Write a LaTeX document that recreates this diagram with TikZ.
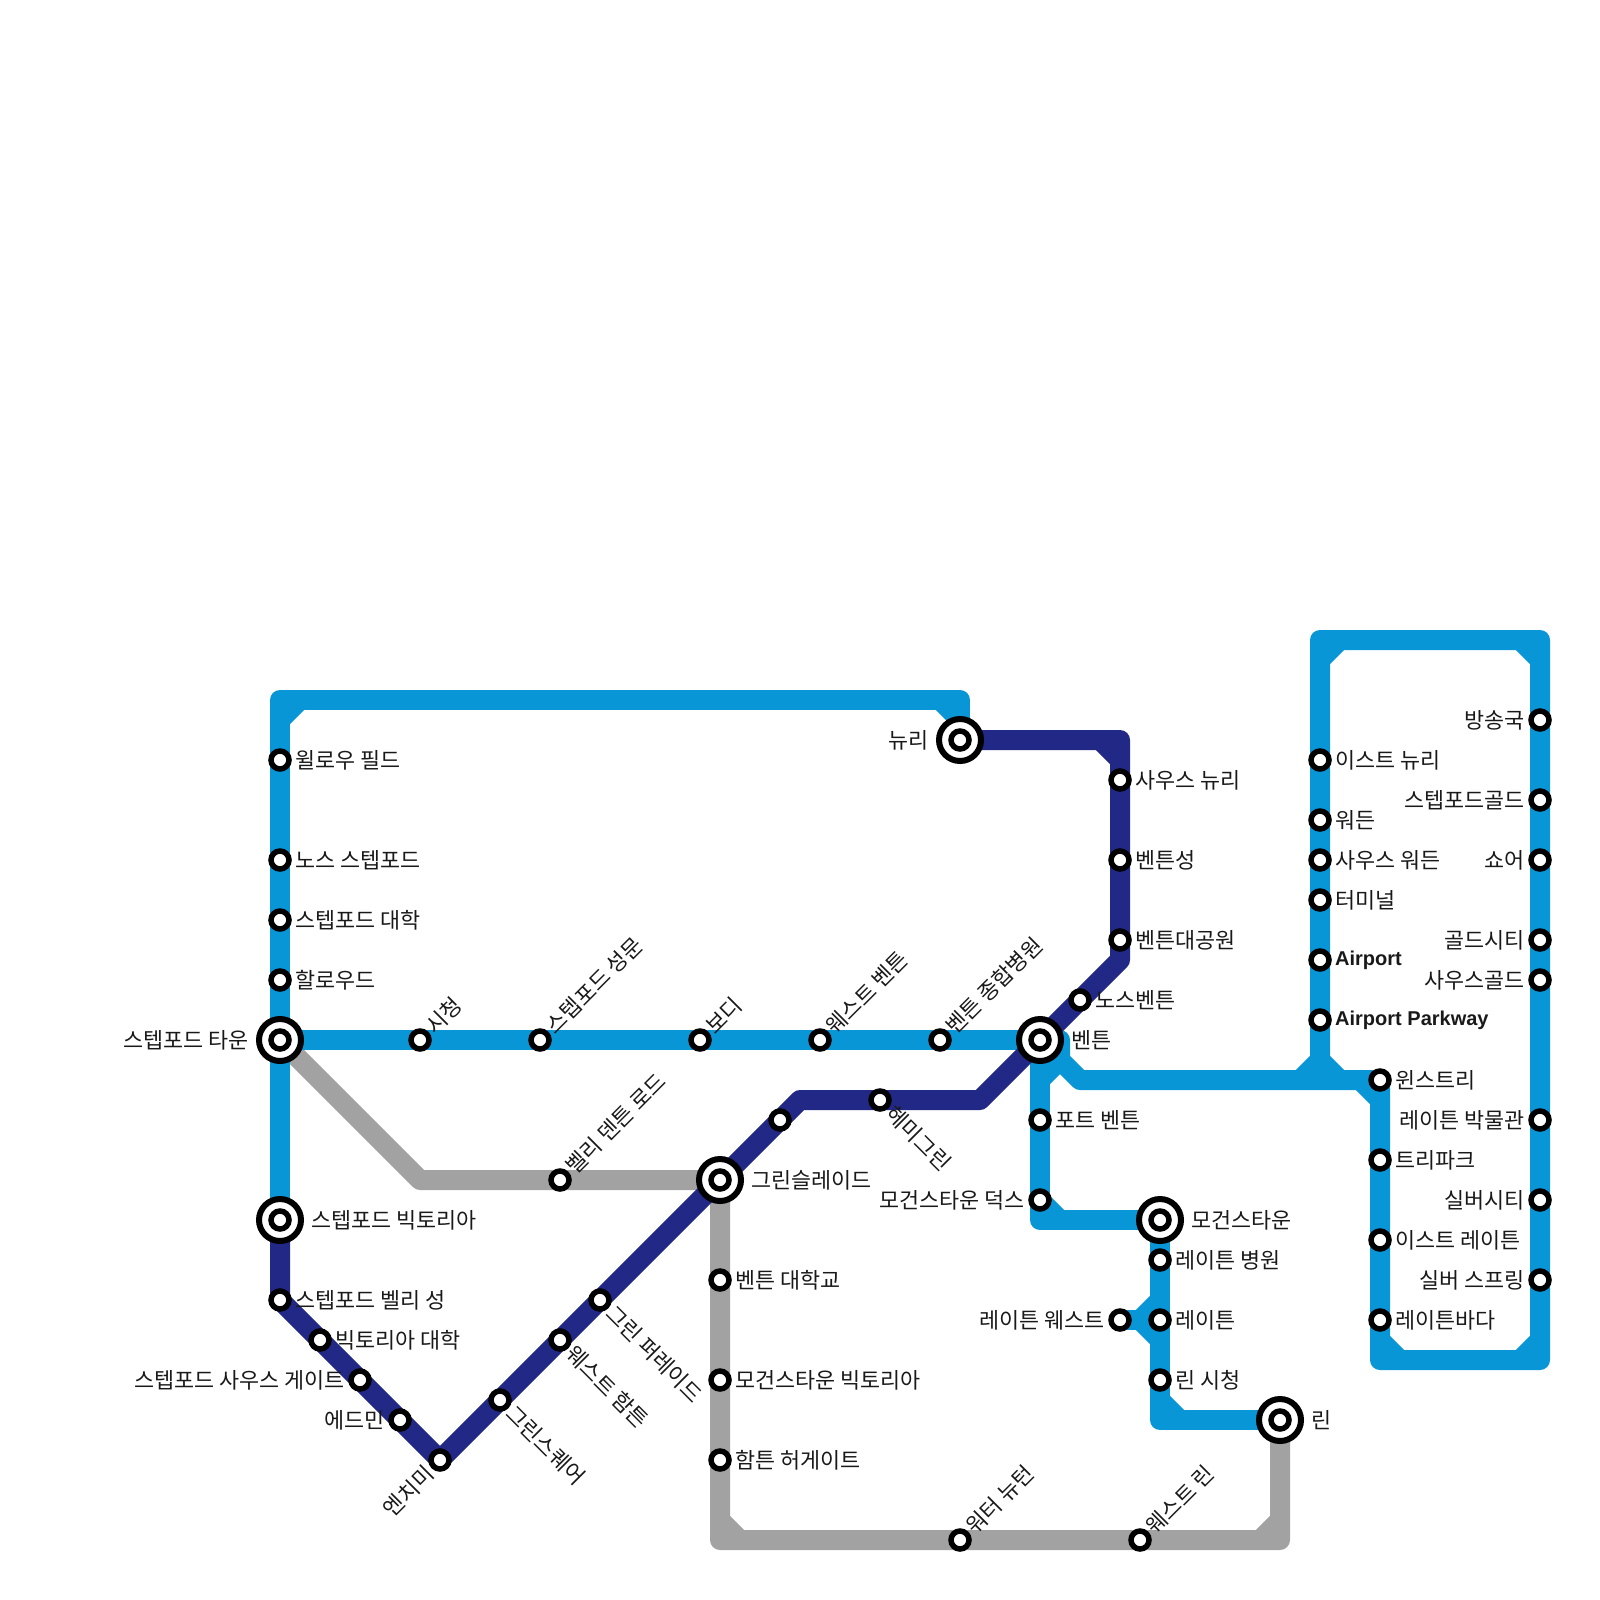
\documentclass[tikz,border=0pt]{standalone}
\usepackage{fontspec}
\setmainfont{Noto Sans CJK KR}
\newfontfamily\latinfont{Liberation Sans}
\definecolor{lineblue}{HTML}{0896D7}
\definecolor{linenavy}{HTML}{212885}
\definecolor{linegray}{HTML}{A2A2A2}
\pgfdeclarelayer{lines}
\pgfsetlayers{lines,main}
\tikzset{
  x=1pt,y=-1pt,
  metro/.style={line width=20pt,line join=round,line cap=butt},
  blueline/.style={metro,draw=lineblue},
  navyline/.style={metro,draw=linenavy},
  grayline/.style={metro,draw=linegray},
  stn/.style={circle,draw=black,fill=white,line width=5.5pt,minimum size=18pt,inner sep=0pt},
  xfer/.style={circle,draw=black,fill=white,line width=6pt,minimum size=42pt,inner sep=0pt},
  lab/.style={inner sep=0pt,text=black!90,font=\fontsize{21.8}{24}\selectfont,text height=16pt,text depth=0pt},
  labE/.style={lab,anchor=west},
  labW/.style={lab,anchor=east},
  labUR/.style={lab,anchor=west,rotate=45},
  labDR/.style={lab,anchor=west,rotate=-45},
  labDL/.style={lab,anchor=east,rotate=45},
}
\newcommand\Stn[7]{\node[stn] (#1) at (#2,#3) {}; \node[#6] (#1t) at (#2+#4,#3+#5) {#7};}
\newcommand\SE[4]{\Stn{#1}{#2}{#3}{15}{0}{labE}{#4}}
\newcommand\SW[4]{\Stn{#1}{#2}{#3}{-15}{0}{labW}{#4}}
\newcommand\SUR[4]{\Stn{#1}{#2}{#3}{10}{-10}{labUR}{#4}}
\newcommand\SDR[4]{\Stn{#1}{#2}{#3}{10}{10}{labDR}{#4}}
\newcommand\SDL[4]{\Stn{#1}{#2}{#3}{-10}{10}{labDL}{#4}}
\newcommand\XE[4]{\node[xfer] (#1o) at (#2,#3) {}; \Stn{#1}{#2}{#3}{31}{0}{labE}{#4}}
\newcommand\XW[4]{\node[xfer] (#1o) at (#2,#3) {}; \Stn{#1}{#2}{#3}{-31}{0}{labW}{#4}}
\newcommand\Lat[1]{\raisebox{3pt}{\fontsize{20}{24}\selectfont\latinfont\bfseries #1}}
\begin{document}
\begin{tikzpicture}
\useasboundingbox (0,0) rectangle (1600,1600);
% stations, left blue line
\SE{willow}{280}{760}{윌로우 필드}
\SE{nstep}{280}{860}{노스 스텝포드}
\SE{stepuni}{280}{920}{스텝포드 대학}
\SE{hallow}{280}{980}{할로우드}
\XW{steptown}{280}{1040}{스텝포드 타운}
\XE{stepvic}{280}{1220}{스텝포드 빅토리아}
\SE{stepvalley}{280}{1300}{스텝포드 벨리 성}
\SE{vicuni}{320}{1340}{빅토리아 대학}
\SW{stepsouth}{360}{1380}{스텝포드 사우스 게이트}
\SW{edmin}{400}{1420}{에드민}
\SDL{enchimi}{440}{1460}{엔치미}
\SDR{gsquare}{500}{1400}{그린스퀘어}
\SDR{whamp}{560}{1340}{웨스트 함튼}
\SDR{gparade}{600}{1300}{그린 퍼레이드}
\XE{gslade}{720}{1180}{그린슬레이드}
\node[stn] (unnamed) at (780,1120) {};
\SDR{hemi}{880}{1100}{헤미그린}
% centre line
\SUR{cityhall}{420}{1040}{시청}
\SUR{stepgate}{540}{1040}{스텝포드 성문}
\SUR{bodi}{700}{1040}{보디}
\SUR{wbenton}{820}{1040}{웨스트 벤튼}
\SUR{bhosp}{940}{1040}{벤튼 종합병원}
\SUR{vdenton}{560}{1180}{벨리 덴튼 로드}
\XE{benton}{1040}{1040}{벤튼}
\XW{newry}{960}{740}{뉴리}
\SE{snewry}{1120}{780}{사우스 뉴리}
\SE{bcastle}{1120}{860}{벤튼성}
\SE{bpark}{1120}{940}{벤튼대공원}
\SE{nbenton}{1080}{1000}{노스벤튼}
% south branches
\SE{fort}{1040}{1120}{포트 벤튼}
\SW{docks}{1040}{1200}{모건스타운 덕스}
\XE{morgan}{1160}{1220}{모건스타운}
\SE{lhosp}{1160}{1260}{레이튼 병원}
\SE{leighton}{1160}{1320}{레이튼}
\SW{lwest}{1120}{1320}{레이튼 웨스트}
\SE{lcity}{1160}{1380}{린 시청}
\XE{lynn}{1280}{1420}{린}
\SE{bentonuni}{720}{1280}{벤튼 대학교}
\SE{morganvic}{720}{1380}{모건스타운 빅토리아}
\SE{hampton}{720}{1460}{함튼 허게이트}
\SUR{waternewton}{960}{1540}{워터 뉴턴}
\SUR{wlynn}{1140}{1540}{웨스트 린}
% east loop
\SE{enewry}{1320}{760}{이스트 뉴리}
\SE{warden}{1320}{820}{워든}
\SE{swarden}{1320}{860}{사우스 워든}
\SE{terminal}{1320}{900}{터미널}
\SE{airport}{1320}{960}{\Lat{Airport}}
\SE{airparkway}{1320}{1020}{\Lat{Airport Parkway}}
\SE{winstree}{1380}{1080}{윈스트리}
\SE{treepark}{1380}{1160}{트리파크}
\SE{eleighton}{1380}{1240}{이스트 레이튼}
\SE{lbay}{1380}{1320}{레이튼바다}
\SW{radio}{1540}{720}{방송국}
\SW{stepgold}{1540}{800}{스텝포드골드}
\SW{shore}{1540}{860}{쇼어}
\SW{goldcity}{1540}{940}{골드시티}
\SW{sgold}{1540}{980}{사우스골드}
\SW{lmuseum}{1540}{1120}{레이튼 박물관}
\SW{silvercity}{1540}{1200}{실버시티}
\SW{silverspring}{1540}{1280}{실버 스프링}
\begin{pgfonlayer}{lines}
% gray line
\draw[grayline] (steptown.center) -- (420,1180) -- (vdenton.center) -- (gslade.center) -- (bentonuni.center) -- (morganvic.center) -- (hampton.center) -- (720,1540) -- (waternewton.center) -- (wlynn.center) -- (1280,1540) -- (lynn.center);
\draw[grayline] (720,1520) -- (740,1540);
\draw[grayline] (1260,1540) -- (1280,1520);
% blue lines
\draw[blueline] (stepvic.center) -- (steptown.center) -- (hallow.center) -- (stepuni.center) -- (nstep.center) -- (willow.center) -- (280,700) -- (960,700) -- (newry.center);
\draw[blueline] (280,720) -- (300,700);
\draw[blueline] (940,700) -- (960,720);
\draw[blueline] (steptown.center) -- (cityhall.center) -- (stepgate.center) -- (bodi.center) -- (wbenton.center) -- (bhosp.center) -- (benton.center);
\draw[blueline] (benton.center) -- (fort.center) -- (docks.center) -- (1040,1220) -- (morgan.center) -- (lhosp.center) -- (leighton.center) -- (lcity.center) -- (1160,1420) -- (lynn.center);
\draw[blueline] (1040,1200) -- (1060,1220);
\draw[blueline] (1160,1400) -- (1180,1420);
\draw[blueline] (lwest.center) -- (leighton.center);
\draw[blueline] (1140,1320) -- (1160,1300);
\draw[blueline] (1140,1320) -- (1160,1340);
\draw[blueline] (benton.center) -- (1060,1040) -- (1060,1060) -- (1080,1080) -- (winstree.center) -- (treepark.center) -- (eleighton.center) -- (lbay.center) -- (1380,1360) -- (1540,1360) -- (silverspring.center) -- (silvercity.center) -- (lmuseum.center) -- (sgold.center) -- (goldcity.center) -- (shore.center) -- (stepgold.center) -- (radio.center) -- (1540,640) -- (1320,640) -- (enewry.center) -- (warden.center) -- (swarden.center) -- (terminal.center) -- (airport.center) -- (airparkway.center) -- (1320,1080);
\draw[blueline] (1040,1080) -- (1060,1060);
\draw[blueline] (1300,1080) -- (1320,1060) -- (1340,1080);
\draw[blueline] (1360,1080) -- (1380,1100);
\draw[blueline] (1380,1340) -- (1400,1360);
\draw[blueline] (1520,1360) -- (1540,1340);
\draw[blueline] (1520,640) -- (1540,660);
\draw[blueline] (1320,660) -- (1340,640);
% navy line
\draw[navyline] (newry.center) -- (1120,740) -- (snewry.center) -- (bcastle.center) -- (bpark.center) -- (1120,960) -- (nbenton.center) -- (benton.center) -- (980,1100) -- (hemi.center) -- (800,1100) -- (unnamed.center) -- (gslade.center) -- (gparade.center) -- (whamp.center) -- (gsquare.center) -- (enchimi.center) -- (edmin.center) -- (stepsouth.center) -- (vicuni.center) -- (stepvalley.center) -- (stepvic.center);
\draw[navyline] (1100,740) -- (1120,760);
\end{pgfonlayer}
\end{tikzpicture}
\end{document}
